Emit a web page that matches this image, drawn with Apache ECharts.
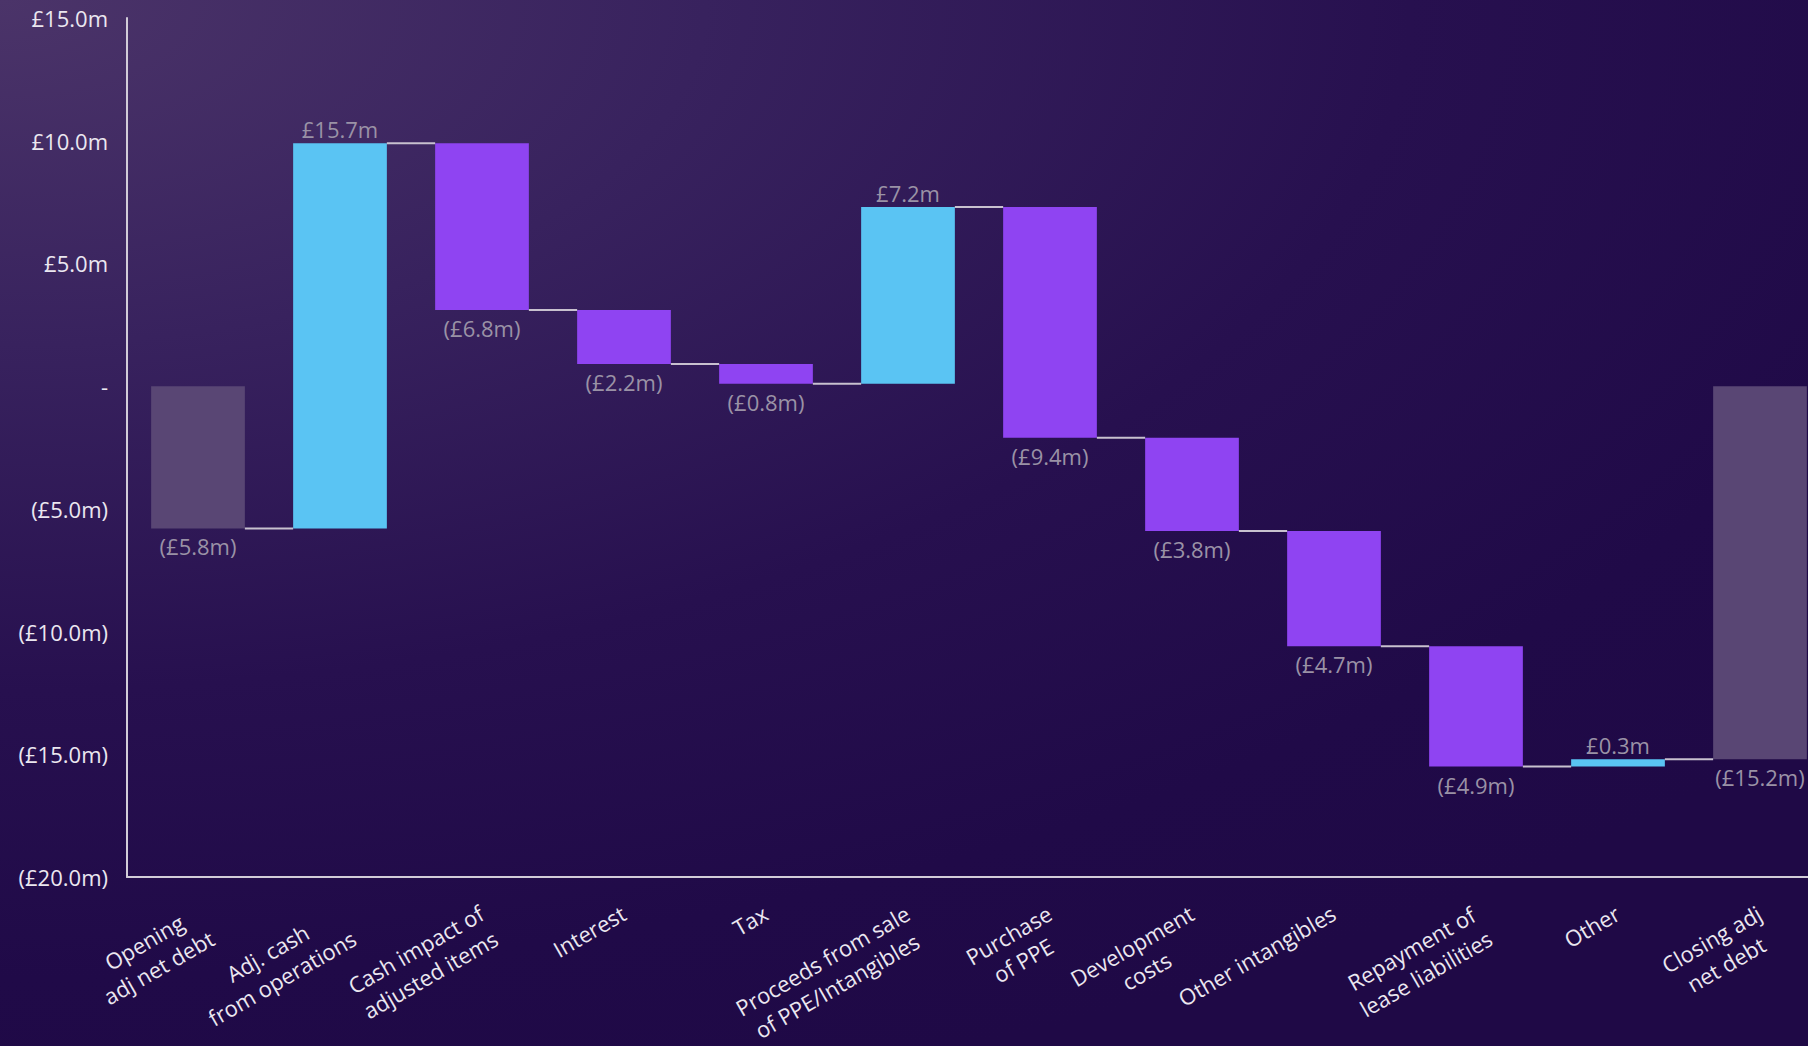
<!DOCTYPE html>
<html>
<head>
<meta charset="utf-8">
<script src="https://cdn.jsdelivr.net/npm/echarts@6/dist/echarts.min.js"></script>
<style>
html,body{margin:0;padding:0;width:1808px;height:1046px;overflow:hidden;}
body{background: radial-gradient(ellipse 130% 110% at 0% 0%, #4b3469 0%, #38225e 30%, #27104f 60%, #200a48 85%, #1f0946 100%);}
#chart{width:1808px;height:1046px;}
</style>
</head>
<body>
<div id="chart"></div>
<script>
const categories = [
  "Opening\nadj net debt",
  "Adj. cash\nfrom operations",
  "Cash impact of\nadjusted items",
  "Interest",
  "Tax",
  "Proceeds from sale\nof PPE/Intangibles",
  "Purchase\nof PPE",
  "Development\ncosts",
  "Other intangibles",
  "Repayment of\nlease liabilities",
  "Other",
  "Closing adj\nnet debt"
];
const deltas = [-5.8, 15.7, -6.8, -2.2, -0.8, 7.2, -9.4, -3.8, -4.7, -4.9, 0.3, -15.2];
const isTotal = [true, false, false, false, false, false, false, false, false, false, false, true];
const yTicks = { min: -20, max: 15, interval: 5 };

const COLOR_POS = '#5ac4f3';
const COLOR_NEG = '#8f44f2';
const COLOR_TOTAL = '#594674';

// bar start (base) and running level after each bar
const bases = [];
const levels = [];
let run = 0;
for (let i = 0; i < deltas.length; i++) {
  const start = isTotal[i] ? 0 : run;
  bases.push(Math.round(start * 10) / 10);
  run = Math.round((start + deltas[i]) * 10) / 10;
  levels.push(run);
}
const connectors = [];
for (let i = 0; i < deltas.length - 1; i++) connectors.push([i, levels[i]]);

function money(v) {
  if (Math.abs(v) < 1e-9) return '-';
  const s = '£' + Math.abs(v).toFixed(1) + 'm';
  return v < 0 ? '(' + s + ')' : s;
}

const BAR_RATIO = 0.66;
const FONT = '"Open Sans", "Noto Sans", sans-serif';

const chart = echarts.init(document.getElementById('chart'), null, { renderer: 'svg' });
chart.setOption({
  backgroundColor: 'transparent',
  animation: false,
  grid: { left: 127, right: -23, top: 18, bottom: 169, containLabel: false, outerBoundsMode: 'none' },
  xAxis: {
    type: 'category',
    data: categories,
    axisLine: { onZero: false, lineStyle: { color: '#d2ccd8', width: 2 } },
    axisTick: { show: false },
    axisLabel: {
      interval: 0,
      rotate: 30,
      align: 'right',
      verticalAlign: 'top',
      margin: 17,
      padding: [0, 9, 0, 0],
      hideOverlap: false,
      formatter: function (v) {
        return v.split('\n').map(function (l) { return '{c|' + l + '}'; }).join('\n');
      },
      rich: {
        c: { align: 'center', fontFamily: FONT, fontSize: 22, lineHeight: 29, color: '#ebe7f0' }
      }
    }
  },
  yAxis: {
    type: 'value',
    min: yTicks.min,
    max: yTicks.max,
    interval: yTicks.interval,
    axisLine: { show: true, lineStyle: { color: '#d2ccd8', width: 2 } },
    axisTick: { show: false },
    splitLine: { show: false },
    axisLabel: {
      margin: 19,
      fontFamily: FONT,
      fontSize: 22,
      color: '#ebe7f0',
      formatter: money
    }
  },
  series: [
    {
      type: 'bar',
      stack: 'wf',
      stackStrategy: 'all',
      barWidth: (BAR_RATIO * 100) + '%',
      silent: true,
      itemStyle: { color: 'transparent' },
      data: bases
    },
    {
      type: 'bar',
      stack: 'wf',
      stackStrategy: 'all',
      barWidth: (BAR_RATIO * 100) + '%',
      data: deltas.map(function (v, i) {
        return {
          value: v,
          itemStyle: { color: isTotal[i] ? COLOR_TOTAL : (v >= 0 ? COLOR_POS : COLOR_NEG) },
          label: { distance: v < 0 ? 7 : 3 }
        };
      }),
      label: {
        show: true,
        position: 'outside',
        distance: 3,
        fontFamily: FONT,
        fontSize: 22,
        color: '#9a92a6',
        formatter: function (p) { return money(p.value); }
      }
    },
    {
      type: 'custom',
      silent: true,
      data: connectors,
      renderItem: function (params, api) {
        const i = api.value(0);
        const lv = api.value(1);
        const a = api.coord([i, lv]);
        const b = api.coord([i + 1, lv]);
        const bw = api.size([1, 0])[0] * BAR_RATIO;
        return {
          type: 'line',
          shape: { x1: a[0] + bw / 2, y1: a[1], x2: b[0] - bw / 2, y2: b[1] },
          style: { stroke: '#c8c1cf', lineWidth: 2 }
        };
      },
      z: 3
    }
  ]
});
</script>
</body>
</html>
